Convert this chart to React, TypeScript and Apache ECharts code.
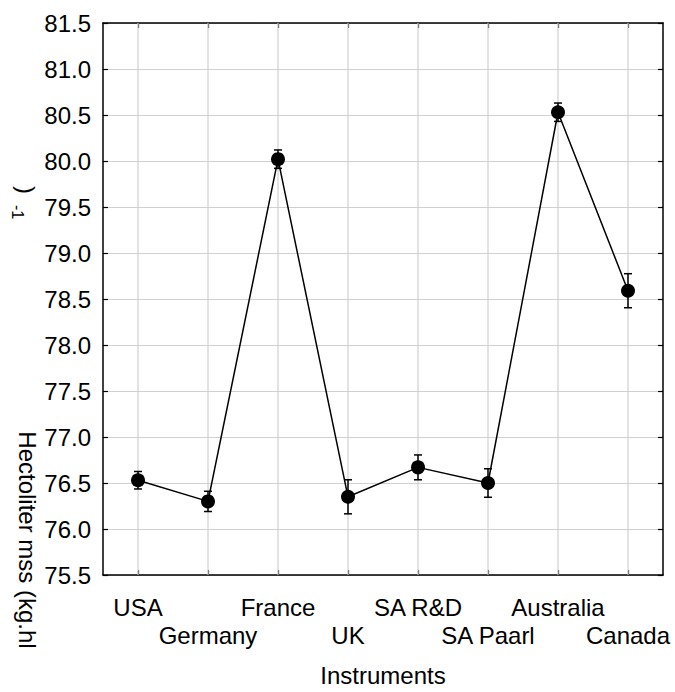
import React, { useEffect, useRef } from "react";
import * as echarts from "echarts";

const categories = ["USA", "Germany", "France", "UK", "SA R&D", "SA Paarl", "Australia", "Canada"];
const means = [76.53, 76.3, 80.02, 76.35, 76.67, 76.5, 80.53, 78.59];
const errors = [0.095, 0.11, 0.1, 0.185, 0.135, 0.155, 0.1, 0.185];
const yTicks = { min: 75.5, max: 81.5, interval: 0.5 };
const xTitle = "Instruments";
const yTitleParts = ["Hectoliter mss (kg.hl", "-1", ")"];

const FONT = "'Liberation Sans', Arial, sans-serif";

export default function App() {
  const ref = useRef<HTMLDivElement>(null);
  useEffect(() => {
    if (!ref.current) return;
    const chart = echarts.init(ref.current, null, { renderer: "svg" });
    const errData = means.map((m, i) => [i, m - errors[i], m + errors[i]]);
    const gridData = categories.map((_, i) => [i]);
    const axisLine = { show: true, lineStyle: { color: "#000", width: 1.5 } };
    const tick = { show: true, inside: true, length: 5, lineStyle: { color: "#000", width: 1.2 } };
    chart.setOption({
      animation: false,
      backgroundColor: "#fff",
      textStyle: { fontFamily: FONT },
      grid: { left: 103, right: 12, top: 23, bottom: 108, containLabel: false },
      xAxis: [
        {
          type: "category",
          data: categories,
          position: "bottom",
          boundaryGap: true,
          axisLine,
          axisTick: { ...tick, alignWithLabel: true },
          splitLine: { show: false },
          axisLabel: {
            interval: 0,
            margin: 18,
            fontSize: 24,
            lineHeight: 28,
            color: "#000",
            fontFamily: FONT,
            formatter: (v: string, i: number) => (i % 2 === 1 ? "\n" + v : v),
          },
          name: xTitle,
          nameLocation: "middle",
          nameGap: 88,
          nameTextStyle: { fontSize: 24, color: "#000", fontFamily: FONT },
        },
        {
          type: "category",
          data: categories,
          position: "top",
          boundaryGap: true,
          axisLine,
          axisTick: { ...tick, alignWithLabel: true },
          axisLabel: { show: false },
          splitLine: { show: false },
        },
      ],
      yAxis: [
        {
          type: "value",
          min: yTicks.min,
          max: yTicks.max,
          interval: yTicks.interval,
          position: "left",
          axisLine,
          axisTick: tick,
          splitLine: { show: true, lineStyle: { color: "#d0d0d0", width: 1.2 } },
          axisLabel: {
            margin: 12,
            fontSize: 24,
            color: "#000",
            fontFamily: FONT,
            formatter: (v: number) => v.toFixed(1),
          },
        },
        {
          type: "value",
          min: yTicks.min,
          max: yTicks.max,
          interval: yTicks.interval,
          position: "right",
          axisLine,
          axisTick: tick,
          splitLine: { show: false },
          axisLabel: { show: false },
        },
      ],
      graphic: [
        {
          type: "text",
          x: 27,
          y: 540,
          rotation: -Math.PI / 2,
          style: {
            text: yTitleParts[0],
            fontSize: 24,
            fontFamily: FONT,
            fill: "#000",
            align: "center",
            verticalAlign: "middle",
          },
        },
        {
          type: "text",
          x: 17,
          y: 212,
          rotation: -Math.PI / 2,
          style: {
            text: yTitleParts[1],
            fontSize: 16,
            fontFamily: FONT,
            fill: "#000",
            align: "center",
            verticalAlign: "middle",
          },
        },
        {
          type: "text",
          x: 26,
          y: 190,
          rotation: -Math.PI / 2,
          style: {
            text: yTitleParts[2],
            fontSize: 24,
            fontFamily: FONT,
            fill: "#000",
            align: "center",
            verticalAlign: "middle",
          },
        },
      ],
      series: [
        {
          type: "custom",
          name: "vgrid",
          z: 1,
          silent: true,
          data: gridData,
          encode: { x: 0 },
          renderItem: (params: any, api: any) => {
            const cs = params.coordSys;
            const x = api.coord([api.value(0), yTicks.min])[0];
            return {
              type: "line",
              shape: { x1: x, y1: cs.y, x2: x, y2: cs.y + cs.height },
              style: { stroke: "#d0d0d0", lineWidth: 1.2 },
            };
          },
        },
        {
          type: "line",
          name: "mean",
          z: 3,
          data: means,
          symbol: "circle",
          symbolSize: 14,
          itemStyle: { color: "#000" },
          lineStyle: { color: "#000", width: 1.5 },
        },
        {
          type: "custom",
          name: "error",
          z: 4,
          data: errData,
          encode: { x: 0, y: [1, 2] },
          renderItem: (params: any, api: any) => {
            const i = api.value(0);
            const lo = api.coord([i, api.value(1)]);
            const hi = api.coord([i, api.value(2)]);
            const w = 4;
            const st = { stroke: "#000", lineWidth: 1.5 };
            return {
              type: "group",
              children: [
                { type: "line", shape: { x1: lo[0], y1: lo[1], x2: hi[0], y2: hi[1] }, style: st },
                { type: "line", shape: { x1: hi[0] - w, y1: hi[1], x2: hi[0] + w, y2: hi[1] }, style: st },
                { type: "line", shape: { x1: lo[0] - w, y1: lo[1], x2: lo[0] + w, y2: lo[1] }, style: st },
              ],
            };
          },
        },
      ],
    });
    return () => chart.dispose();
  }, []);
  return (
    <div
      ref={ref}
      style={{ position: "fixed", left: 0, top: 0, width: 675, height: 692, background: "#fff" }}
    />
  );
}
